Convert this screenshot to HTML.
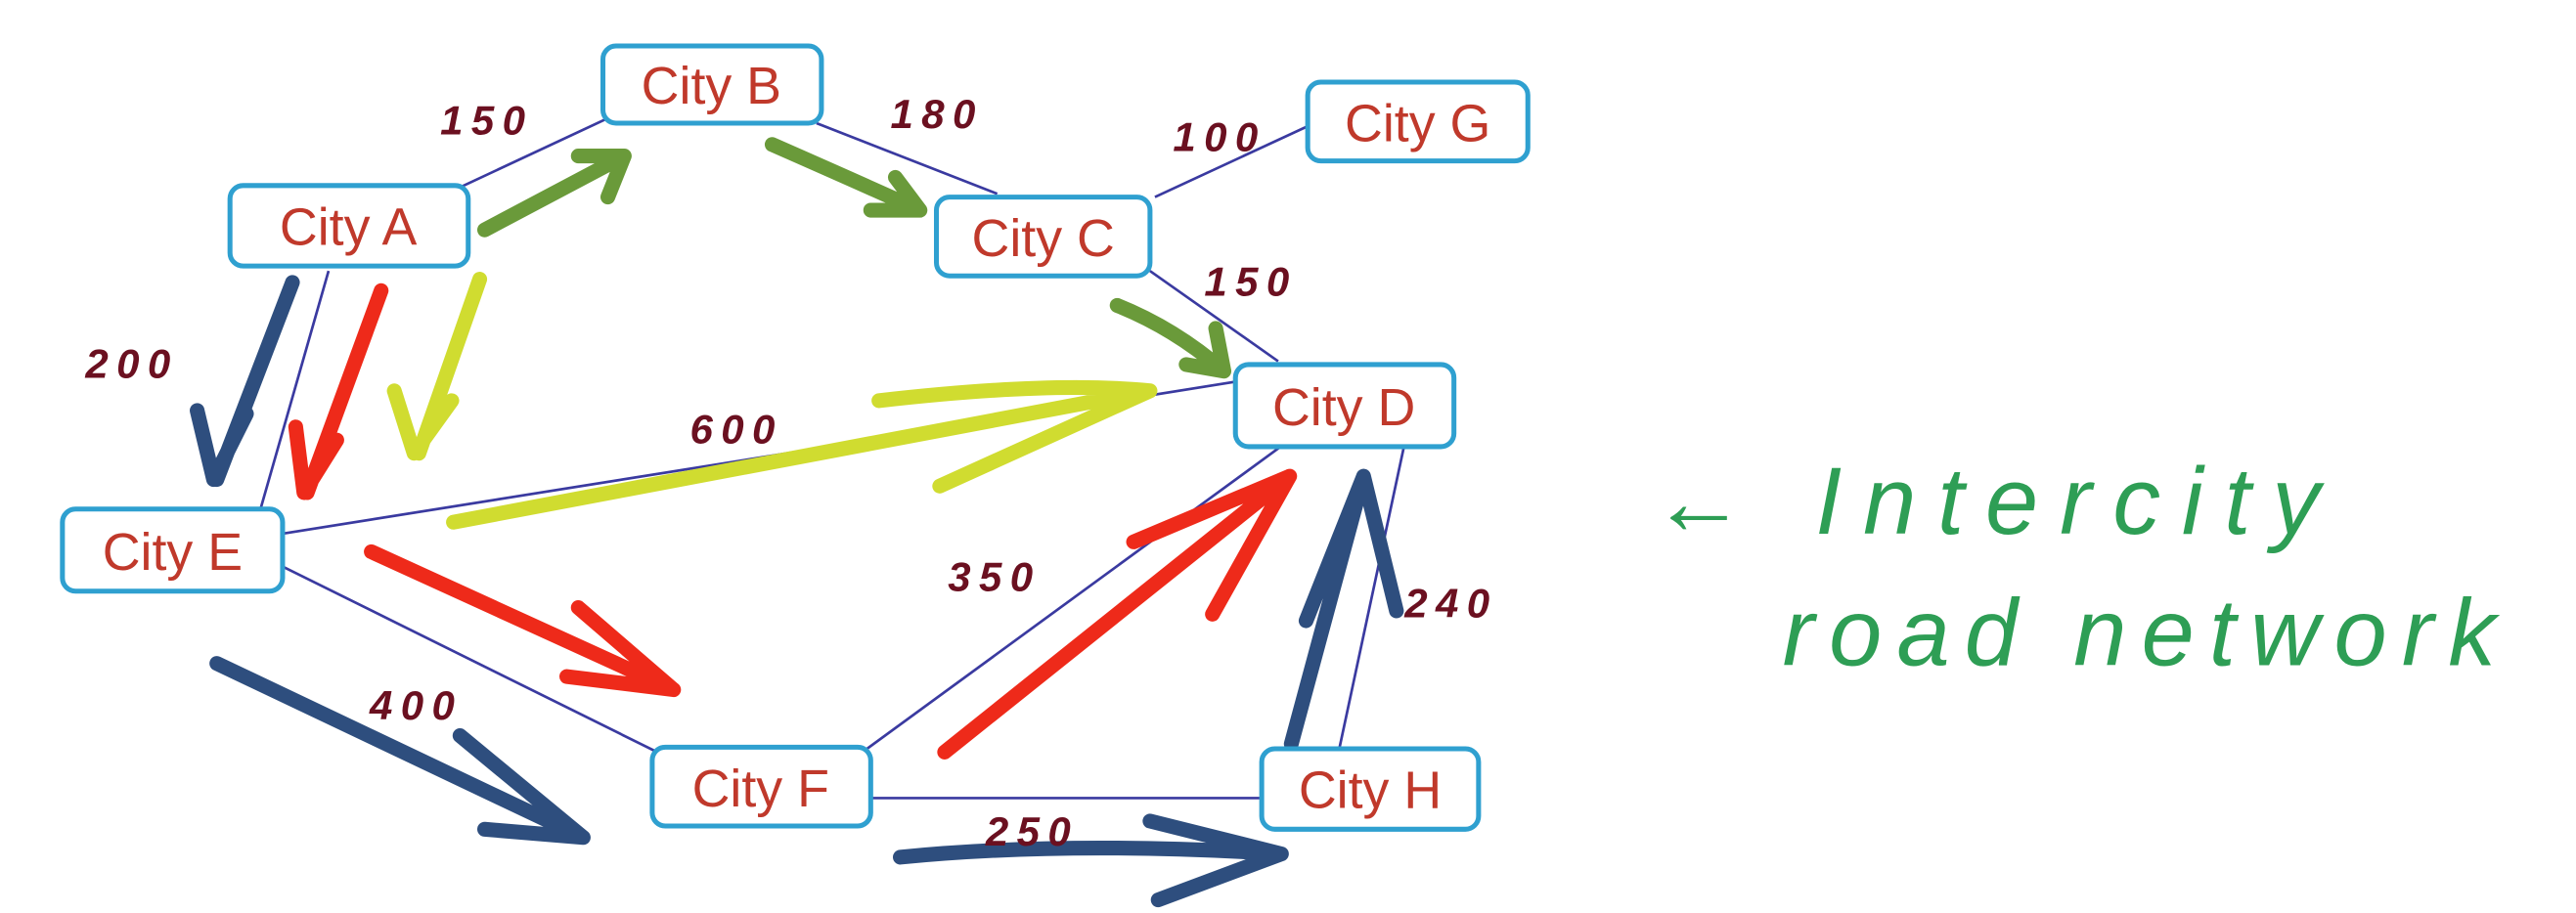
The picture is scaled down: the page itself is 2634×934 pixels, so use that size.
<!DOCTYPE html>
<html><head><meta charset="utf-8"><style>
html,body{margin:0;padding:0;background:#fff;width:2634px;height:934px;overflow:hidden}
svg{display:block}
.box{fill:#fff;stroke:#2fa0d0;stroke-width:3}
.ct{font-family:"Liberation Sans Narrow","Liberation Sans",sans-serif;font-size:32px;fill:#c0392b;text-anchor:middle}
.ed{stroke:#3a3aa0;stroke-width:1.6;fill:none}
.lb{font-family:"Liberation Sans",sans-serif;font-size:25px;font-style:italic;font-weight:bold;fill:#6b1020;letter-spacing:5px}
.ar{fill:none;stroke-linecap:round;stroke-linejoin:round;stroke-width:9}
.g{stroke:#6a9a3a}.r{stroke:#ee2a1a}.y{stroke:#d0dc30}.b{stroke:#2e4e7e}
.st{font-family:"Liberation Sans",sans-serif;font-style:italic;font-size:58px;fill:#2e9e55;letter-spacing:9px}
</style></head><body>
<svg width="2634" height="934" viewBox="0 0 1568 556" preserveAspectRatio="none">
<line class="ed" x1="278" y1="115" x2="370" y2="72"/>
<line class="ed" x1="497" y1="75" x2="607" y2="118"/>
<line class="ed" x1="703" y1="120" x2="800" y2="75"/>
<line class="ed" x1="700" y1="165" x2="778" y2="220"/>
<line class="ed" x1="200" y1="165" x2="158" y2="312"/>
<line class="ed" x1="172" y1="325" x2="755" y2="232"/>
<line class="ed" x1="172" y1="345" x2="400" y2="458"/>
<line class="ed" x1="525" y1="458" x2="785" y2="268"/>
<line class="ed" x1="530" y1="486" x2="770" y2="486"/>
<line class="ed" x1="815" y1="457" x2="855" y2="270"/>
<path class="ar g" d="M295 140 L380 95 M352 95 L380 95 L370 120"/>
<path class="ar g" d="M470 88 Q520 110 560 128 M545 108 L560 128 L530 128"/>
<path class="ar g" d="M680 186 Q715 200 745 226 M740 200 L745 226 L722 222"/>
<path class="ar b" d="M178 172 L132 292 M120 250 L130 292 L150 252"/>
<path class="ar r" d="M232 177 L187 300 M180 260 L185 300 L205 268"/>
<path class="ar y" d="M292 170 L255 276 M240 238 L252 276 L275 244"/>
<path class="ar y" d="M276 318 L700 238 M535 244 Q640 232 700 238 L572 296"/>
<path class="ar r" d="M226 336 L410 420 M352 370 L410 420 L345 412"/>
<path class="ar b" d="M132 404 L355 510 M280 448 L355 510 L295 505"/>
<path class="ar r" d="M575 458 L785 290 M690 330 L785 290 L738 374"/>
<path class="ar b" d="M786 453 L830 290 M795 378 L830 290 L850 372"/>
<path class="ar b" d="M548 522 Q650 512 780 520 M700 500 L780 520 L705 548"/>
<rect class="box" x="367" y="28" width="133" height="47" rx="8"/><text class="ct" x="433" y="63">City B</text>
<rect class="box" x="140" y="113" width="145" height="49" rx="8"/><text class="ct" x="212" y="149">City A</text>
<rect class="box" x="570" y="120" width="130" height="48" rx="8"/><text class="ct" x="635" y="156">City C</text>
<rect class="box" x="796" y="50" width="134" height="48" rx="8"/><text class="ct" x="863" y="86">City G</text>
<rect class="box" x="752" y="222" width="133" height="50" rx="8"/><text class="ct" x="818" y="259">City D</text>
<rect class="box" x="38" y="310" width="134" height="50" rx="8"/><text class="ct" x="105" y="347">City E</text>
<rect class="box" x="397" y="455" width="133" height="48" rx="8"/><text class="ct" x="463" y="491">City  F</text>
<rect class="box" x="768" y="456" width="132" height="49" rx="8"/><text class="ct" x="834" y="492">City H</text>
<text class="lb" x="268" y="82">150</text>
<text class="lb" x="542" y="78">180</text>
<text class="lb" x="714" y="92">100</text>
<text class="lb" x="733" y="180">150</text>
<text class="lb" x="52" y="230">200</text>
<text class="lb" x="420" y="270">600</text>
<text class="lb" x="577" y="360">350</text>
<text class="lb" x="855" y="376">240</text>
<text class="lb" x="225" y="438">400</text>
<text class="lb" x="600" y="515">250</text>
<text class="st" x="1005" y="325"><tspan>←</tspan><tspan x="1105" letter-spacing="13">Intercity</tspan></text>
<text class="st" x="1085" y="405">road network</text>
</svg>
</body></html>
